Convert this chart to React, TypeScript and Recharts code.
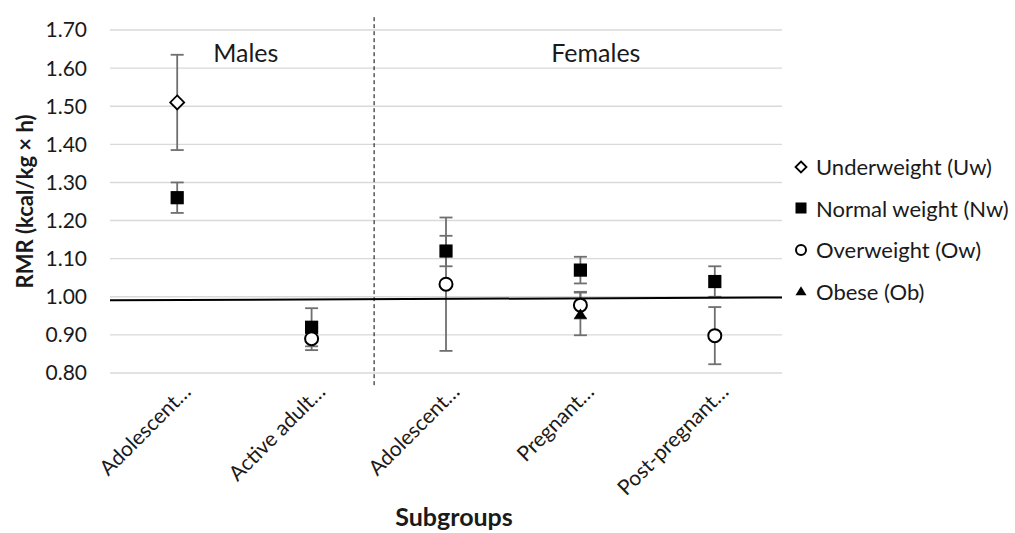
import React from 'react';
import {
  ComposedChart,
  Scatter,
  XAxis,
  YAxis,
  CartesianGrid,
  ErrorBar,
  ReferenceLine,
  ReferenceDot,
} from 'recharts';

// ---------- data ----------
const categories = ['Adolescent…', 'Active adult…', 'Adolescent…', 'Pregnant…', 'Post-pregnant…'];
const seriesNames = ['Underweight (Uw)', 'Normal weight (Nw)', 'Overweight (Ow)', 'Obese (Ob)'];

const underweight = [1.51, null, null, null, null];
const underweightErr = [0.125, null, null, null, null];
const normalWeight = [1.26, 0.92, 1.12, 1.07, 1.04];
const normalWeightErr = [0.04, 0.05, 0.04, 0.035, 0.04];
const overweight = [null, 0.89, 1.033, 0.978, 0.898];
const overweightErr = [null, 0.03, 0.175, 0.035, 0.075];
const obese = [null, null, null, 0.955, null];
const obeseErr = [null, null, null, 0.056, null];

const yTicks = [0.8, 0.9, 1.0, 1.1, 1.2, 1.3, 1.4, 1.5, 1.6, 1.7];
const trendStart = 0.991;
const trendEnd = 0.998;
const dividerX = 2.465;
const groupLabels = [
  { text: 'Males', x: 1.51, y: 1.64 },
  { text: 'Females', x: 4.115, y: 1.64 },
];

const toPoints = (vals: (number | null)[], errs: (number | null)[]) =>
  vals
    .map((v, i) => ({ x: i + 1, y: v, err: errs[i] }))
    .filter((d) => d.y !== null);

const uwData = toPoints(underweight, underweightErr);
const nwData = toPoints(normalWeight, normalWeightErr);
const owData = toPoints(overweight, overweightErr);
const obData = toPoints(obese, obeseErr);

const FONT = 'Lato, "Open Sans", sans-serif';
const TEXT = '#1a1a1a';
const ERR = '#6f6f6f';

const CHART_W = 1015;
const CHART_H = 533;
const MARGIN = { top: 30, right: 233, bottom: 0, left: 0 };
const X_AXIS_H = 160;
const Y_AXIS_W = 110;
const PLOT_MID_Y = MARGIN.top + (CHART_H - MARGIN.top - X_AXIS_H) / 2;

// ---------- marker shapes ----------
const Diamond = ({ cx, cy, s = 7 }: any) => (
  <polygon
    points={`${cx},${cy - s} ${cx + s},${cy} ${cx},${cy + s} ${cx - s},${cy}`}
    fill="#fff"
    stroke="#000"
    strokeWidth={1.8}
  />
);
const Square = ({ cx, cy, s = 6.6 }: any) => (
  <rect x={cx - s} y={cy - s} width={2 * s} height={2 * s} fill="#000" />
);
const Circle = ({ cx, cy, s = 6.5 }: any) => (
  <circle cx={cx} cy={cy} r={s} fill="#fff" stroke="#000" strokeWidth={2} />
);
const Triangle = ({ cx, cy, s = 6.5 }: any) => (
  <polygon
    points={`${cx},${cy - s * 0.85} ${cx + s},${cy + s * 0.75} ${cx - s},${cy + s * 0.75}`}
    fill="#000"
  />
);
const Empty = () => <g />;

const legendShapes = [Diamond, Square, Circle, Triangle];

const LegendBox = () => (
  <div
    style={{
      position: 'absolute',
      left: 792,
      top: 146,
      fontFamily: FONT,
      fontSize: 22,
      color: TEXT,
    }}
  >
    {seriesNames.map((name, i) => {
      const Shape = legendShapes[i];
      return (
        <div key={name} style={{ display: 'flex', alignItems: 'center', height: 41.5 }}>
          <svg width={18} height={18} style={{ marginRight: 6 }}>
            <Shape cx={9} cy={9} s={i === 2 ? 5 : 5.5} />
          </svg>
          <span style={{ whiteSpace: 'nowrap' }}>{name}</span>
        </div>
      );
    })}
  </div>
);

const XTick = ({ x, y, payload }: any) => (
  <g transform={`translate(${x + 15},${y + 12})`}>
    <text
      textAnchor="end"
      transform="rotate(-45)"
      fontFamily={FONT}
      fontSize={21}
      fill={TEXT}
    >
      {categories[payload.value - 1]}
    </text>
  </g>
);

const XLabel = ({ viewBox }: any) => (
  <text
    x={viewBox.x + viewBox.width / 2 + 8}
    y={viewBox.y + viewBox.height - 7}
    textAnchor="middle"
    fontFamily={FONT}
    fontWeight="bold"
    fontSize={25}
    fill={TEXT}
  >
    Subgroups
  </text>
);

const YLabel = () => {
  const cx = 24;
  const cy = PLOT_MID_Y;
  return (
    <text
      x={cx}
      y={cy}
      transform={`rotate(-90, ${cx}, ${cy})`}
      textAnchor="middle"
      dominantBaseline="central"
      fontFamily={FONT}
      fontWeight="bold"
      fontSize={22}
      fill={TEXT}
    >
      RMR (kcal/kg × h)
    </text>
  );
};

const errProps = { dataKey: 'err', direction: 'y' as const, width: 6.5, stroke: ERR, strokeWidth: 1.8 };

export default function App() {
  return (
    <div style={{ position: 'absolute', left: 0, top: 0, width: CHART_W, height: CHART_H, background: '#fff' }}>
      <ComposedChart width={CHART_W} height={CHART_H} margin={MARGIN}>
        <CartesianGrid vertical={false} stroke="#d9d9d9" strokeWidth={1.4} />
        <XAxis
          type="number"
          dataKey="x"
          domain={[0.5, 5.5]}
          ticks={[1, 2, 3, 4, 5]}
          axisLine={false}
          tickLine={false}
          height={X_AXIS_H}
          tick={<XTick />}
          interval={0}
          label={<XLabel />}
        />
        <YAxis
          type="number"
          dataKey="y"
          domain={[0.8, 1.7]}
          ticks={yTicks}
          axisLine={false}
          tickLine={false}
          width={Y_AXIS_W}
          tickSize={6}
          tickMargin={17}
          tickFormatter={(v: number) => v.toFixed(2)}
          tick={{ fontFamily: FONT, fontSize: 21, fill: TEXT }}
          label={<YLabel />}
        />

        {/* error bars first, under all markers */}
        <Scatter data={uwData} shape={<Empty />} isAnimationActive={false} legendType="none">
          <ErrorBar {...errProps} />
        </Scatter>
        <Scatter data={nwData} shape={<Empty />} isAnimationActive={false} legendType="none">
          <ErrorBar {...errProps} />
        </Scatter>
        <Scatter data={owData} shape={<Empty />} isAnimationActive={false} legendType="none">
          <ErrorBar {...errProps} />
        </Scatter>
        <Scatter data={obData} shape={<Empty />} isAnimationActive={false} legendType="none">
          <ErrorBar {...errProps} />
        </Scatter>

        <Scatter name={seriesNames[0]} data={uwData} shape={<Diamond />} isAnimationActive={false} />
        <Scatter name={seriesNames[1]} data={nwData} shape={<Square />} isAnimationActive={false} />
        <Scatter name={seriesNames[2]} data={owData} shape={<Circle />} isAnimationActive={false} />
        <Scatter name={seriesNames[3]} data={obData} shape={<Triangle />} isAnimationActive={false} />

        <ReferenceLine
          segment={[
            { x: 0.5, y: trendStart },
            { x: 5.5, y: trendEnd },
          ]}
          stroke="#000"
          strokeWidth={2}
          ifOverflow="visible"
        />
        <ReferenceLine
          segment={[
            { x: dividerX, y: 0.768 },
            { x: dividerX, y: 1.735 },
          ]}
          stroke="#000"
          strokeWidth={1}
          strokeDasharray="4 3"
          ifOverflow="visible"
        />
        {groupLabels.map((g) => (
          <ReferenceDot
            key={g.text}
            x={g.x}
            y={g.y}
            r={0}
            fill="none"
            stroke="none"
            ifOverflow="visible"
            label={{ value: g.text, position: 'center', fontFamily: FONT, fontSize: 25, fill: TEXT }}
          />
        ))}
      </ComposedChart>
      <LegendBox />
    </div>
  );
}
